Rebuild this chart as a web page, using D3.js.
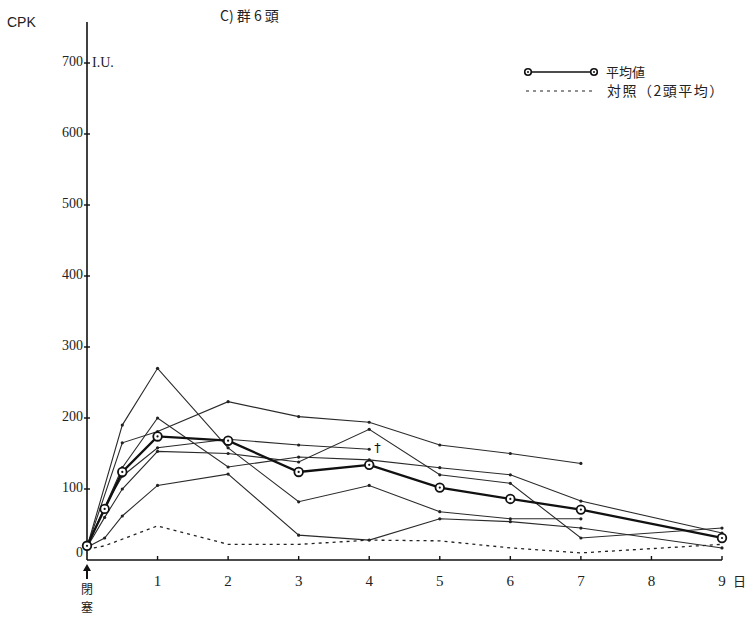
<!DOCTYPE html>
<html>
<head>
<meta charset="utf-8">
<script src="https://cdn.jsdelivr.net/npm/d3@7"></script>
<style>
  html, body { margin: 0; padding: 0; background: #fff; }
  svg { display: block; }
</style>
</head>
<body>
<svg id="chart" width="750" height="618"></svg>
<script>
// ---- data (CPK, I.U.) ----
const days = [0, 0.25, 0.5, 1, 2, 3, 4, 5, 6, 7, 9];
const xTickDays = [1, 2, 3, 4, 5, 6, 7, 8, 9];
const xTickLabels = ["1", "2", "3", "4", "5", "6", "7", "8", "9"];
const yTicks = [0, 100, 200, 300, 400, 500, 600, 700];

const animal1 = [18, null, 190, 270, 158, 82, 105, 68, 58, 58, null];
const animal2 = [18, null, 130, 200, 131, 145, 141, 130, 120, 83, 38];
const animal3 = [18, null, 165, 181, 223, 202, 194, 162, 150, 136, null];
const animal4 = [18, 31, 62, 105, 121, 35, 28, 58, 54, 45, 17];
const animal5 = [18, 75, 118, 158, 170, 162, 156, null, null, null, null];
const animal6 = [18, 60, 100, 153, 150, 138, 184, 120, 108, 31, 45];
const individuals = [animal1, animal2, animal3, animal4, animal5, animal6];

const meanValues = [20, 72, 124, 174, 168, 124, 134, 102, 86, 71, 31];
const controlValues = [15, 20, null, 48, 22, 22, 28, 27, 17, 10, 22];

const title = "C) 群 6 頭";
const yTitle = "CPK";
const yUnit = "I.U.";
const xUnit = "日";
const legendMean = "平均値";
const legendControl = "対照（2頭平均）";
const occlusionLabel = ["閉", "塞"];

// ---- drawing ----
const svg = d3.select("#chart");
const x = d3.scaleLinear().domain([0, 9]).range([87, 722]);
const y = d3.scaleLinear().domain([0, 700]).range([560, 63]);
const serif = "'Liberation Serif', 'DejaVu Serif', serif";
const cjk = "'Noto Sans CJK JP', sans-serif";

// y axis
const yAxis = d3.axisLeft(y).tickValues(yTicks).tickSize(0).tickFormat("");
const gy = svg.append("g").attr("transform", `translate(${x(0)},0)`).call(yAxis);
gy.select(".domain").remove();
svg.append("line").attr("x1", x(0)).attr("x2", x(0)).attr("y1", 22).attr("y2", y(0))
  .attr("stroke", "#111").attr("stroke-width", 1.6);
yTicks.forEach(v => {
  if (v > 0) {
    svg.append("line").attr("x1", x(0) - 3).attr("x2", x(0) + 3)
      .attr("y1", y(v)).attr("y2", y(v)).attr("stroke", "#111").attr("stroke-width", 1.4);
  }
  svg.append("text").attr("x", x(0) - 4).attr("y", v === 0 ? y(v) - 6 : y(v))
    .attr("text-anchor", "end").attr("dominant-baseline", "middle")
    .attr("font-family", serif).attr("font-size", 14).attr("fill", "#222").text(v);
});

// x axis
const xAxis = d3.axisBottom(x).tickValues(xTickDays).tickSize(0).tickFormat("");
const gx = svg.append("g").attr("transform", `translate(0,${y(0)})`).call(xAxis);
gx.select(".domain").remove();
svg.append("line").attr("x1", x(0)).attr("x2", x(9)).attr("y1", y(0)).attr("y2", y(0))
  .attr("stroke", "#111").attr("stroke-width", 1.6);
xTickDays.forEach((d, i) => {
  svg.append("line").attr("x1", x(d)).attr("x2", x(d)).attr("y1", y(0)).attr("y2", y(0) - 4)
    .attr("stroke", "#111").attr("stroke-width", 1.4);
  svg.append("text").attr("x", x(d)).attr("y", 586).attr("text-anchor", "middle")
    .attr("font-family", serif).attr("font-size", 15).attr("fill", "#222").text(xTickLabels[i]);
});
svg.append("text").attr("x", x(9) + 11).attr("y", 586)
  .attr("font-family", cjk).attr("font-size", 13).attr("fill", "#222").text(xUnit);

// occlusion arrow and label
svg.append("line").attr("x1", x(0)).attr("x2", x(0)).attr("y1", 579).attr("y2", 567)
  .attr("stroke", "#111").attr("stroke-width", 2);
svg.append("path").attr("d", `M${x(0) - 4},571 L${x(0)},564 L${x(0) + 4},571 Z`).attr("fill", "#111");
occlusionLabel.forEach((c, i) => {
  svg.append("text").attr("x", x(0)).attr("y", 594 + i * 18).attr("text-anchor", "middle")
    .attr("font-family", cjk).attr("font-size", 12).attr("fill", "#222").text(c);
});

// titles
svg.append("text").attr("x", 7).attr("y", 27).attr("font-family", "'Liberation Sans', sans-serif")
  .attr("font-size", 14).attr("fill", "#222").text(yTitle);
svg.append("text").attr("x", 220).attr("y", 21).attr("font-family", cjk)
  .attr("font-size", 14).attr("fill", "#222").text(title);
svg.append("text").attr("x", 92).attr("y", 67).attr("font-family", serif)
  .attr("font-size", 14).attr("fill", "#222").text(yUnit);

const pts = arr => days.map((d, i) => [d, arr[i]]).filter(p => p[1] !== null);
const line = d3.line().x(p => x(p[0])).y(p => y(p[1]));

// individual lines
individuals.forEach(a => {
  svg.append("path").attr("d", line(pts(a))).attr("fill", "none")
    .attr("stroke", "#2a2a2a").attr("stroke-width", 1.1);
  svg.selectAll(null).data(pts(a).filter(p => p[0] > 0)).enter().append("circle")
    .attr("cx", p => x(p[0])).attr("cy", p => y(p[1])).attr("r", 1.6).attr("fill", "#222");
});
// dagger at end of animal5
const a5 = pts(animal5); const a5last = a5[a5.length - 1];
svg.append("text").attr("x", x(a5last[0]) + 5).attr("y", y(a5last[1]) + 3)
  .attr("font-family", "'DejaVu Sans', sans-serif").attr("font-size", 13).attr("fill", "#111").text("†");

// control
svg.append("path").attr("d", line(pts(controlValues))).attr("fill", "none")
  .attr("stroke", "#222").attr("stroke-width", 1.3).attr("stroke-dasharray", "3,4");

// mean
svg.append("path").attr("d", line(pts(meanValues))).attr("fill", "none")
  .attr("stroke", "#111").attr("stroke-width", 2.3);
svg.selectAll(null).data(pts(meanValues)).enter().append("circle")
  .attr("cx", p => x(p[0])).attr("cy", p => y(p[1])).attr("r", 4.3)
  .attr("fill", "#fff").attr("stroke", "#111").attr("stroke-width", 1.8);
svg.selectAll(null).data(pts(meanValues)).enter().append("circle")
  .attr("cx", p => x(p[0])).attr("cy", p => y(p[1])).attr("r", 1.1).attr("fill", "#111");

// legend
const lgY1 = 72, lgY2 = 91;
svg.append("line").attr("x1", 528).attr("x2", 594).attr("y1", lgY1).attr("y2", lgY1)
  .attr("stroke", "#111").attr("stroke-width", 1.5);
[528, 594].forEach(cx => {
  svg.append("circle").attr("cx", cx).attr("cy", lgY1).attr("r", 3.3).attr("fill", "#fff")
    .attr("stroke", "#111").attr("stroke-width", 1.6);
  svg.append("circle").attr("cx", cx).attr("cy", lgY1).attr("r", 1).attr("fill", "#111");
});
svg.append("text").attr("x", 606).attr("y", lgY1 + 5).attr("font-family", cjk)
  .attr("font-size", 13).attr("fill", "#222").text(legendMean);
svg.append("line").attr("x1", 526).attr("x2", 596).attr("y1", lgY2).attr("y2", lgY2)
  .attr("stroke", "#222").attr("stroke-width", 1.2).attr("stroke-dasharray", "3,4");
svg.append("text").attr("x", 607).attr("y", lgY2 + 5).attr("font-family", cjk)
  .attr("font-size", 14).attr("letter-spacing", 1.5).attr("fill", "#222").text(legendControl);
</script>
</body>
</html>
